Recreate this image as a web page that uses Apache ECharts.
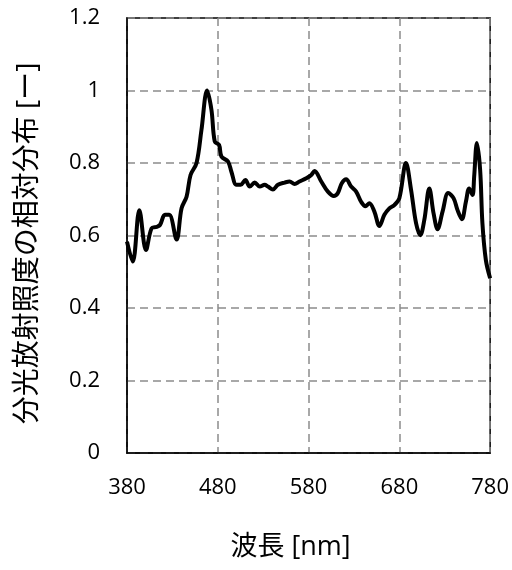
<!DOCTYPE html>
<html>
<head>
<meta charset="utf-8">
<script src="https://cdn.jsdelivr.net/npm/echarts@6/dist/echarts.min.js"></script>
<style>html,body{margin:0;padding:0;background:#fff;}#c{width:512px;height:570px;}</style>
</head>
<body>
<div id="c"></div>
<script>
const wavelengths = [380, 386.3, 393.6, 400.9, 407.1, 412.6, 416.3, 421.8, 426.5, 434.6, 440.1, 445.6, 450, 456.6, 462, 468.2, 473, 476.7, 481.4, 484, 491.3, 495, 500.5, 505.3, 510.4, 515.2, 520.7, 526.2, 531.6, 535.3, 540.8, 546.3, 553.6, 559.1, 564.6, 570, 577.5, 583, 586.6, 594, 601.3, 607.8, 612.2, 616.6, 621.4, 626.9, 632.4, 637.9, 642.6, 647, 652.5, 658, 663.5, 669, 674.5, 680, 687.3, 692.9, 698.4, 703.1, 707.5, 713, 717.7, 722.1, 727.6, 733.8, 739.7, 744.1, 748.9, 753.3, 756.9, 760.6, 762.4, 765.4, 769, 771.5, 775.3, 780];
const relValues = [0.583, 0.528, 0.670, 0.560, 0.620, 0.624, 0.629, 0.657, 0.657, 0.589, 0.675, 0.707, 0.767, 0.800, 0.891, 1.000, 0.947, 0.859, 0.850, 0.818, 0.804, 0.776, 0.740, 0.740, 0.753, 0.735, 0.746, 0.735, 0.740, 0.735, 0.727, 0.740, 0.746, 0.749, 0.742, 0.749, 0.758, 0.767, 0.778, 0.749, 0.721, 0.709, 0.717, 0.744, 0.755, 0.735, 0.721, 0.693, 0.681, 0.689, 0.666, 0.626, 0.657, 0.675, 0.684, 0.703, 0.800, 0.726, 0.634, 0.601, 0.643, 0.730, 0.661, 0.617, 0.666, 0.717, 0.703, 0.670, 0.645, 0.693, 0.730, 0.712, 0.762, 0.855, 0.781, 0.634, 0.532, 0.482];
const xTicks = [380, 480, 580, 680, 780];
const yTicks = [0, 0.2, 0.4, 0.6, 0.8, 1, 1.2];
const xName = '波長 [nm]';
const yName = '分光放射照度の相対分布 [ー]';

const font = '"Open Sans","Noto Sans CJK JP",sans-serif';
const chart = echarts.init(document.getElementById('c'));
chart.setOption({
  animation: false,
  grid: {left: 127, right: 21, top: 18, bottom: 117, show: true, borderColor: '#000', borderWidth: 1.5, backgroundColor: 'transparent'},
  xAxis: {
    type: 'value', min: xTicks[0], max: xTicks[xTicks.length - 1], interval: 100,
    name: xName, nameLocation: 'middle', nameGap: 81,
    nameTextStyle: {fontFamily: font, fontSize: 27, color: '#000', padding: [0, 36, 0, 0]},
    axisLine: {lineStyle: {color: '#000', width: 1.5}},
    axisTick: {show: false},
    axisLabel: {fontFamily: font, fontSize: 22, color: '#000', margin: 24},
    splitLine: {show: true, lineStyle: {color: '#8c8c8c', type: [8, 5], width: 1.5}}
  },
  yAxis: {
    type: 'value', min: yTicks[0], max: yTicks[yTicks.length - 1], interval: 0.2,
    name: yName, nameLocation: 'middle', nameGap: 85, nameRotate: 90,
    nameTextStyle: {fontFamily: font, fontSize: 28, color: '#000', padding: [0, 16, 0, 0]},
    axisLine: {show: true, lineStyle: {color: '#000', width: 1.5}},
    axisTick: {show: false},
    axisLabel: {fontFamily: font, fontSize: 22, color: '#000', margin: 27},
    splitLine: {show: true, lineStyle: {color: '#8c8c8c', type: [8, 5], width: 1.5}}
  },
  series: [{
    type: 'line',
    data: wavelengths.map((w, i) => [w, relValues[i]]),
    smooth: 0.35,
    showSymbol: false,
    lineStyle: {color: '#000', width: 4},
    clip: true
  }]
});
</script>
</body>
</html>
